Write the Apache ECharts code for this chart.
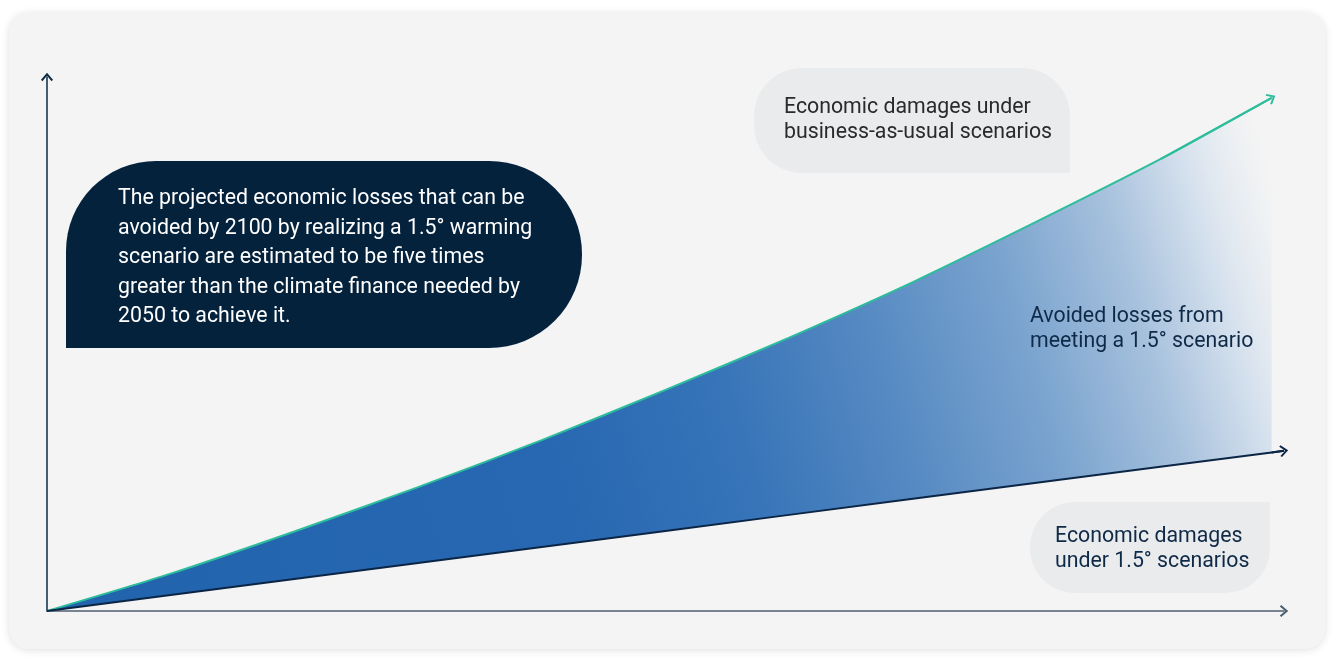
<!DOCTYPE html>
<html>
<head>
<meta charset="utf-8">
<title>Avoided losses</title>
<script src="https://cdn.jsdelivr.net/npm/echarts@6/dist/echarts.min.js"></script>
<style>
    html, body { margin: 0; padding: 0; background: #ffffff; }
    .chart { width: 1333px; height: 659px; }
</style>
</head>
<body>
<div class="chart"></div>
<script>
// 数据
var xs = [0, 10, 20, 30, 40, 50, 60, 70, 80, 90, 99];
var bauDamages = [0, 7.0, 14.9, 23.2, 32.0, 41.4, 51.2, 61.6, 72.9, 84.6, 96.1];
var lowDamages = [0, 3, 6, 9, 12, 15, 18, 21, 24, 27, 29.7];
var lowEnd = [100, 30];

var noteText = 'The projected economic losses that can be\navoided by 2100 by realizing a 1.5\u00b0 warming\nscenario are estimated to be five times\ngreater than the climate finance needed by\n2050 to achieve it.';
var bauLabel = 'Economic damages under\nbusiness-as-usual scenarios';
var avoidedLabel = 'Avoided losses from\nmeeting a 1.5\u00b0 scenario';
var lowLabel = 'Economic damages\nunder 1.5\u00b0 scenarios';

(function(){
    var myChart = echarts.init(document.querySelector('.chart'))

    // 开口箭头
    var chevron = 'path://M0,7 L6,0 L12,7 L10.6,8.4 L6,3 L1.4,8.4 Z';
    var n = xs.length;

    var bauData = xs.map(function (x, i) { return [x, bauDamages[i]]; });
    var lowData = xs.map(function (x, i) { return [x, lowDamages[i]]; }).concat([lowEnd]);

    var fill = new echarts.graphic.LinearGradient(0, 0.85, 1, 0.15, [
        { offset: 0, color: '#2163ad' },
        { offset: 0.4, color: '#2868b2' },
        { offset: 0.54, color: '#3774b8' },
        { offset: 0.66, color: '#5589c2' },
        { offset: 0.78, color: '#7ba4cf' },
        { offset: 0.87, color: '#a7c1dd' },
        { offset: 0.94, color: '#d7e2ee' },
        { offset: 1, color: 'rgba(244,244,244,0.6)' }
    ]);

    var font = 'Roboto, "Noto Sans", sans-serif';
    var fontSize = '21.3px ';

    option = {
        animation: false,
        backgroundColor: '#ffffff',
        grid: {
            left: 47,
            right: 49,
            top: 77,
            bottom: 48
        },
        xAxis: {
            type: 'value',
            min: 0,
            max: 100,
            axisLine: {
                show: true,
                symbol: ['none', chevron],
                symbolSize: [12, 8.4],
                lineStyle: { color: '#4c5d70', width: 1.5 }
            },
            axisTick: { show: false },
            axisLabel: { show: false },
            splitLine: { show: false }
        },
        yAxis: {
            type: 'value',
            min: 0,
            max: 100,
            axisLine: {
                show: true,
                symbol: ['none', chevron],
                symbolSize: [12, 8.4],
                lineStyle: { color: '#0d2a45', width: 1.5 }
            },
            axisTick: { show: false },
            axisLabel: { show: false },
            splitLine: { show: false }
        },
        graphic: [
            {
                type: 'rect',
                z: -1,
                shape: { x: 9, y: 13, width: 1316, height: 636, r: 20 },
                style: {
                    fill: '#f4f4f4',
                    shadowBlur: 8,
                    shadowColor: 'rgba(0,0,0,0.13)',
                    shadowOffsetY: 1
                }
            },
            {
                type: 'rect',
                z: 10,
                shape: { x: 66, y: 161, width: 516, height: 187, r: [90, 93, 93, 0] },
                style: { fill: '#05223d' }
            },
            {
                type: 'text',
                z: 11,
                x: 118,
                y: 184,
                style: {
                    text: noteText,
                    fill: '#ffffff',
                    font: fontSize + font,
                    lineHeight: 29.5,
                    verticalAlign: 'top'
                }
            },
            {
                type: 'rect',
                z: 10,
                shape: { x: 754, y: 68, width: 316, height: 105, r: [48, 48, 0, 48] },
                style: { fill: '#eaebed' }
            },
            {
                type: 'text',
                z: 11,
                x: 784,
                y: 95.5,
                style: {
                    text: bauLabel,
                    fill: '#2a2a2a',
                    font: fontSize + font,
                    lineHeight: 25,
                    verticalAlign: 'top'
                }
            },
            {
                type: 'text',
                z: 11,
                x: 1030,
                y: 304.5,
                style: {
                    text: avoidedLabel,
                    fill: '#0f2a47',
                    font: fontSize + font,
                    lineHeight: 25,
                    verticalAlign: 'top'
                }
            },
            {
                type: 'rect',
                z: 10,
                shape: { x: 1030, y: 502, width: 240, height: 91, r: [45, 0, 45, 45] },
                style: { fill: '#eaebed' }
            },
            {
                type: 'text',
                z: 11,
                x: 1055,
                y: 524.5,
                style: {
                    text: lowLabel,
                    fill: '#0f2a47',
                    font: fontSize + font,
                    lineHeight: 24.5,
                    verticalAlign: 'top'
                }
            }
        ],
        series: [
            {
                // 两条线之间的渐变区域
                name: 'Avoided losses',
                type: 'custom',
                silent: true,
                data: [0],
                renderItem: function (params, api) {
                    var pts = [];
                    for (var i = 0; i < n; i++) pts.push(api.coord([xs[i], bauDamages[i]]));
                    for (var j = n - 1; j >= 0; j--) pts.push(api.coord([xs[j], lowDamages[j]]));
                    return {
                        type: 'polygon',
                        shape: { points: pts },
                        style: { fill: fill }
                    };
                }
            },
            {
                name: 'Business as usual',
                type: 'line',
                silent: true,
                symbol: 'none',
                smooth: 0.25,
                lineStyle: { color: '#2ebd9b', width: 2 },
                data: bauData,
                markLine: {
                    silent: true,
                    symbol: ['none', chevron],
                    symbolSize: [12, 8.4],
                    label: { show: false },
                    lineStyle: { color: '#2ebd9b', width: 2, type: 'solid' },
                    data: [[
                        { coord: bauData[n - 2] },
                        { coord: bauData[n - 1] }
                    ]]
                }
            },
            {
                name: 'Damages under 1.5',
                type: 'line',
                silent: true,
                symbol: 'none',
                lineStyle: { color: '#0b2545', width: 2 },
                data: lowData,
                markLine: {
                    silent: true,
                    symbol: ['none', chevron],
                    symbolSize: [12, 8.4],
                    label: { show: false },
                    lineStyle: { color: '#0b2545', width: 2, type: 'solid' },
                    data: [[
                        { coord: lowData[lowData.length - 2] },
                        { coord: lowEnd }
                    ]]
                }
            }
        ]
    };
    myChart.setOption(option);
})();
</script>
</body>
</html>
